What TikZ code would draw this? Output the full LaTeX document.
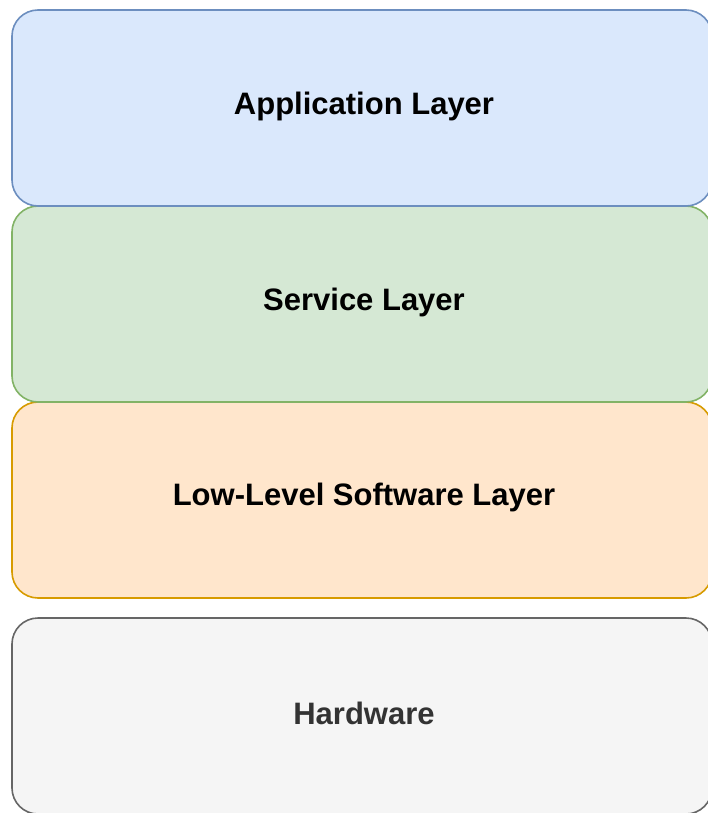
\documentclass[tikz,border=0pt]{standalone}
\usepackage{fontspec}
\setmainfont{Liberation Sans}
\definecolor{appfill}{HTML}{DAE8FC}\definecolor{appline}{HTML}{6C8EBF}
\definecolor{svcfill}{HTML}{D5E8D4}\definecolor{svcline}{HTML}{82B366}
\definecolor{lowfill}{HTML}{FFE6CC}\definecolor{lowline}{HTML}{D79B00}
\definecolor{hwfill}{HTML}{F5F5F5}\definecolor{hwline}{HTML}{666666}
\definecolor{hwtext}{HTML}{333333}
\begin{document}
\begin{tikzpicture}[x=1pt,y=-1pt,
  layer/.style={rounded corners=26pt, line width=1.6pt},
  lbl/.style={font=\fontsize{31}{36}\selectfont\bfseries, anchor=center}]
\useasboundingbox (0,0) rectangle (708,813);
\begin{scope}
\clip (0,0) rectangle (708,813);
\draw[layer, fill=hwfill, draw=hwline] (12,618) rectangle (712,814);
\draw[layer, fill=lowfill, draw=lowline] (12,402) rectangle (712,598);
\draw[layer, fill=svcfill, draw=svcline] (12,206) rectangle (712,402);
\draw[layer, fill=appfill, draw=appline] (12,10) rectangle (712,206);
\end{scope}
\node[lbl] (app) at (364,106) {Application Layer};
\node[lbl] (svc) at (364,302) {Service Layer};
\node[lbl] (low) at (364,497) {Low-Level Software Layer};
\node[lbl, text=hwtext] (hw) at (364,713) {Hardware};
\end{tikzpicture}
\end{document}
